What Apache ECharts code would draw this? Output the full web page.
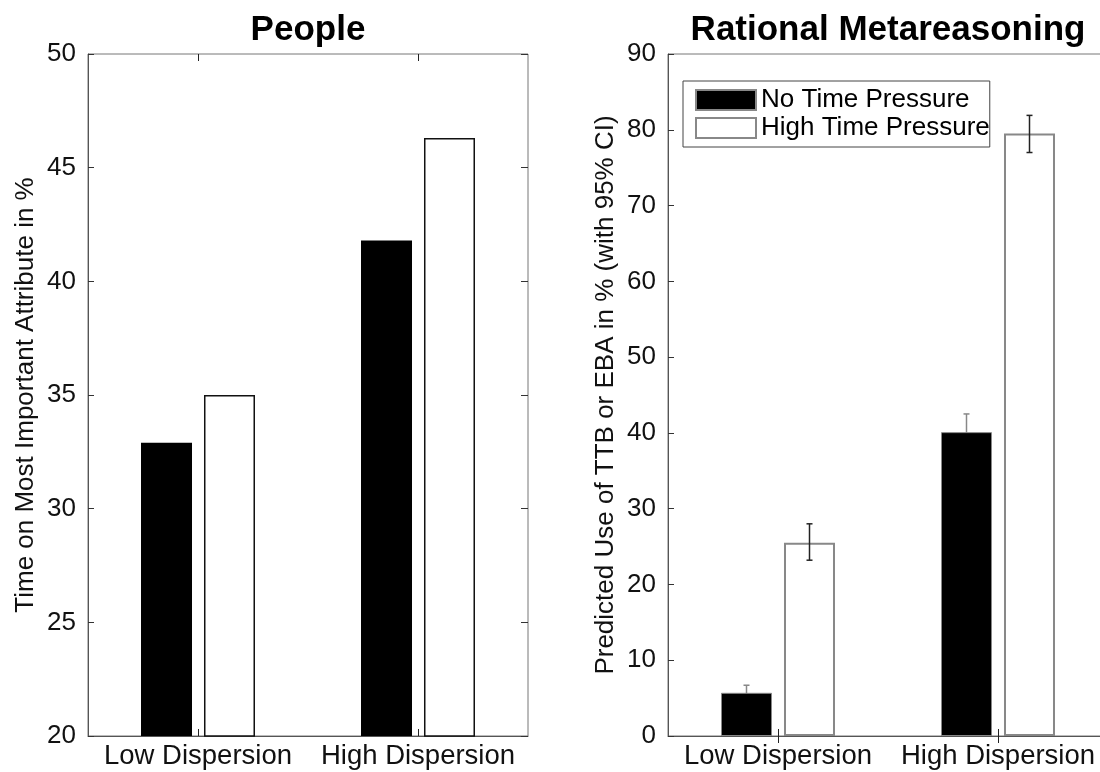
<!DOCTYPE html>
<html>
<head>
<meta charset="utf-8">
<script src="https://cdn.jsdelivr.net/npm/echarts@6/dist/echarts.min.js"></script>
<style>
  html, body { margin: 0; padding: 0; background: #fff; }
  #chart { width: 1100px; height: 772px; }
</style>
</head>
<body>
<div id="chart"></div>
<script>
// ---- data ----
const categories = ['Low Dispersion', 'High Dispersion'];
const seriesNames = ['No Time Pressure', 'High Time Pressure'];

// Left panel: People (time on most important attribute, %)
const peopleNoTP = [32.9, 41.8];
const peopleHighTP = [35.0, 46.3];
const peopleTicks = { min: 20, max: 50, interval: 5 };

// Right panel: Rational metareasoning (predicted use of TTB or EBA, %)
const modelNoTP = [5.7, 40.1];
const modelNoTPLow = [4.7, 37.7];
const modelNoTPHigh = [6.7, 42.5];
const modelHighTP = [25.5, 79.5];
const modelHighTPLow = [23.2, 77.0];
const modelHighTPHigh = [28.0, 81.9];
const modelTicks = { min: 0, max: 90, interval: 10 };

// ---- styling ----
const FONT = "'Liberation Sans', Arial, Helvetica, sans-serif";
const BAR_W = 51;
const BAR_GAP_PX = 12;
const OFFSET = (BAR_W + BAR_GAP_PX) / 2;
const BAR_GAP = (BAR_GAP_PX / BAR_W * 100).toFixed(1) + '%';

function xAxes(gridIndex) {
  return [
    {
      gridIndex, type: 'category', data: categories, position: 'bottom',
      axisLine: { show: true, lineStyle: { color: '#555', width: 1 } },
      axisTick: { show: true, inside: true, alignWithLabel: true, length: 7, lineStyle: { color: '#222' } },
      axisLabel: { interval: 0, fontSize: 27.5, color: '#111', margin: 6, fontFamily: FONT }
    },
    {
      gridIndex, type: 'category', data: categories, position: 'top',
      axisLine: { show: false },
      axisTick: { show: true, inside: true, alignWithLabel: true, length: 7, lineStyle: { color: '#222' } },
      axisLabel: { show: false }
    }
  ];
}

function yAxes(gridIndex, ticks, name) {
  return [
    {
      gridIndex, type: 'value', min: ticks.min, max: ticks.max, interval: ticks.interval, position: 'left',
      name: name, nameLocation: 'middle', nameGap: 49, nameRotate: 90,
      nameTextStyle: { fontSize: 26, color: '#111', fontFamily: FONT },
      axisLine: { show: true, lineStyle: { color: '#555', width: 1 } },
      axisTick: { show: true, inside: true, length: 6, lineStyle: { color: '#333' } },
      splitLine: { show: false },
      axisLabel: { fontSize: 26, color: '#111', margin: 12, fontFamily: FONT }
    },
    {
      gridIndex, type: 'value', min: ticks.min, max: ticks.max, interval: ticks.interval, position: 'right',
      axisLine: { show: false },
      axisTick: { show: true, inside: true, length: 7, lineStyle: { color: '#333' } },
      splitLine: { show: false },
      axisLabel: { show: false }
    }
  ];
}

function errorSeries(lowArr, highArr, offset, color, z) {
  return {
    type: 'custom', xAxisIndex: 2, yAxisIndex: 2, z: z, silent: true,
    encode: { x: 0, y: [1, 2] },
    data: categories.map((c, i) => [i, lowArr[i], highArr[i]]),
    renderItem: function (params, api) {
      const lo = api.coord([api.value(0), api.value(1)]);
      const hi = api.coord([api.value(0), api.value(2)]);
      const cx = lo[0] + offset;
      const cap = 3;
      const st = { stroke: color, lineWidth: 1.5 };
      return {
        type: 'group',
        children: [
          { type: 'line', shape: { x1: cx, y1: lo[1], x2: cx, y2: hi[1] }, style: st },
          { type: 'line', shape: { x1: cx - cap, y1: hi[1], x2: cx + cap, y2: hi[1] }, style: st },
          { type: 'line', shape: { x1: cx - cap, y1: lo[1], x2: cx + cap, y2: lo[1] }, style: st }
        ]
      };
    }
  };
}

const chart = echarts.init(document.getElementById('chart'), null, { renderer: 'canvas' });
chart.setOption({
  animation: false,
  backgroundColor: '#fff',
  textStyle: { fontFamily: FONT },
  title: [
    { text: 'People', left: 308, top: 13, textAlign: 'center', padding: 0,
      textStyle: { fontSize: 35, fontWeight: 'bold', color: '#000', fontFamily: FONT } },
    { text: 'Rational Metareasoning', left: 888, top: 13, textAlign: 'center', padding: 0,
      textStyle: { fontSize: 35, fontWeight: 'bold', color: '#000', fontFamily: FONT } }
  ],
  legend: {
    data: seriesNames,
    orient: 'vertical',
    left: 683, top: 81,
    padding: [6, 0, 6, 12],
    icon: 'rect',
    itemWidth: 60, itemHeight: 20, itemGap: 2,
    backgroundColor: '#fff',
    borderColor: '#444', borderWidth: 1,
    textStyle: { fontSize: 26, color: '#000', fontFamily: FONT },
    selectedMode: false
  },
  grid: [
    { left: 88, top: 54, width: 440, bottom: 36, show: true, borderColor: '#777', borderWidth: 1,
      containLabel: false, outerBoundsMode: 'none' },
    { left: 668, top: 54, width: 440, bottom: 36, show: true, borderColor: '#777', borderWidth: 1,
      containLabel: false, outerBoundsMode: 'none' }
  ],
  xAxis: [...xAxes(0), ...xAxes(1)],
  yAxis: [
    ...yAxes(0, peopleTicks, 'Time on Most Important Attribute in %'),
    ...yAxes(1, modelTicks, 'Predicted Use of TTB or EBA in % (with 95% CI)')
  ],
  series: [
    { type: 'bar', name: 'People ' + seriesNames[0], xAxisIndex: 0, yAxisIndex: 0,
      data: peopleNoTP, barWidth: BAR_W, barGap: BAR_GAP,
      itemStyle: { color: '#000' } },
    { type: 'bar', name: 'People ' + seriesNames[1], xAxisIndex: 0, yAxisIndex: 0,
      data: peopleHighTP, barWidth: BAR_W, barGap: BAR_GAP,
      itemStyle: { color: '#fff', borderColor: '#111', borderWidth: 1.5 } },
    { type: 'bar', name: seriesNames[0], xAxisIndex: 2, yAxisIndex: 2,
      data: modelNoTP, barWidth: BAR_W, barGap: BAR_GAP,
      itemStyle: { color: '#000', borderColor: '#888', borderWidth: 1 } },
    { type: 'bar', name: seriesNames[1], xAxisIndex: 2, yAxisIndex: 2,
      data: modelHighTP, barWidth: BAR_W, barGap: BAR_GAP,
      itemStyle: { color: '#fff', borderColor: '#888', borderWidth: 2 } },
    errorSeries(modelNoTPLow, modelNoTPHigh, -OFFSET, '#888', 1),
    errorSeries(modelHighTPLow, modelHighTPHigh, OFFSET, '#222', 5)
  ]
});
</script>
</body>
</html>
